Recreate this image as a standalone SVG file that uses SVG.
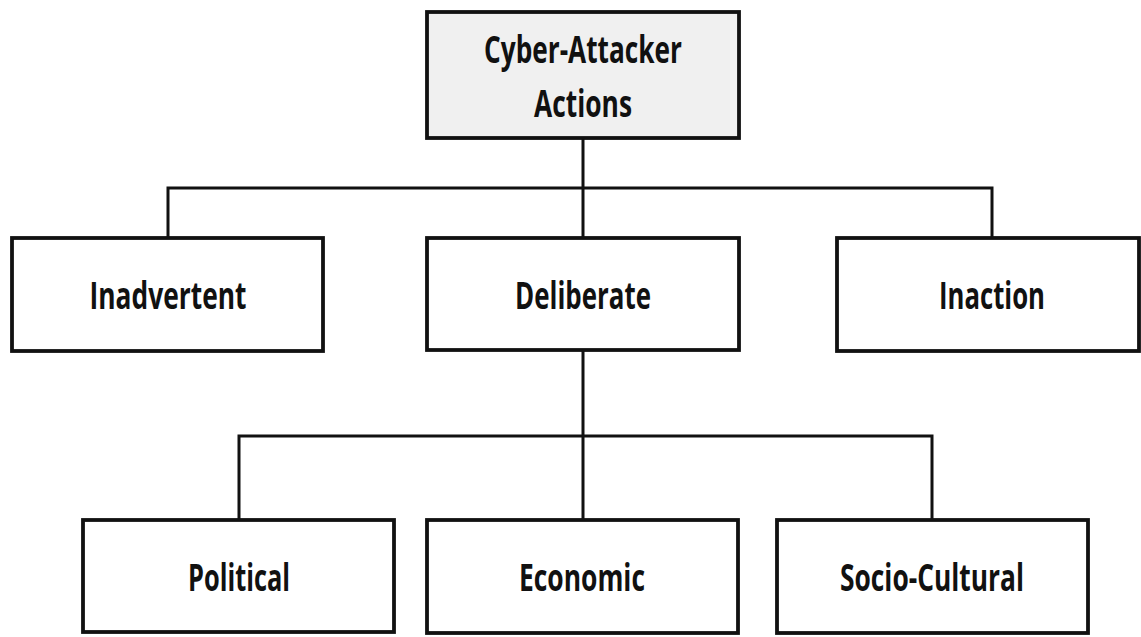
<svg xmlns="http://www.w3.org/2000/svg" width="1141" height="637" viewBox="0 0 1141 637">
<style>
.box{fill:#ffffff;stroke:#111111;stroke-width:3.8}
.root{fill:#f0f0f0}
.lbl{font-family:"Open Sans","Liberation Sans",sans-serif;font-weight:700;font-size:38px;fill:#111111;text-anchor:middle}
.con{fill:none;stroke:#111111;stroke-width:3}
</style>
<rect width="1141" height="637" fill="#ffffff"/>
<g id="connectors">
<path class="con" d="M583 138 V188 M168 238 V188 H992 V238 M583 188 V238"/>
<path class="con" d="M583 350 V436 M239 520 V436 H932 V520 M583 436 V520"/>
</g>
<g id="node-root">
<rect class="box root" x="427" y="12" width="312" height="126"/>
<text class="lbl" x="583" y="63" textLength="198" lengthAdjust="spacingAndGlyphs">Cyber-Attacker</text>
<text class="lbl" x="583" y="117" textLength="98" lengthAdjust="spacingAndGlyphs">Actions</text>
</g>
<g id="node-inadvertent">
<rect class="box" x="12" y="238" width="311" height="113"/>
<text class="lbl" x="168" y="309" textLength="157" lengthAdjust="spacingAndGlyphs">Inadvertent</text>
</g>
<g id="node-deliberate">
<rect class="box" x="427" y="238" width="312" height="112"/>
<text class="lbl" x="583" y="309" textLength="136" lengthAdjust="spacingAndGlyphs">Deliberate</text>
</g>
<g id="node-inaction">
<rect class="box" x="837" y="238" width="302" height="113"/>
<text class="lbl" x="992" y="309" textLength="106" lengthAdjust="spacingAndGlyphs">Inaction</text>
</g>
<g id="node-political">
<rect class="box" x="83" y="520" width="311" height="112"/>
<text class="lbl" x="239" y="591" textLength="102" lengthAdjust="spacingAndGlyphs">Political</text>
</g>
<g id="node-economic">
<rect class="box" x="427" y="520" width="311" height="113"/>
<text class="lbl" x="582" y="591" textLength="126" lengthAdjust="spacingAndGlyphs">Economic</text>
</g>
<g id="node-sociocultural">
<rect class="box" x="777" y="520" width="311" height="113"/>
<text class="lbl" x="932" y="591" textLength="184" lengthAdjust="spacingAndGlyphs">Socio-Cultural</text>
</g>
</svg>
